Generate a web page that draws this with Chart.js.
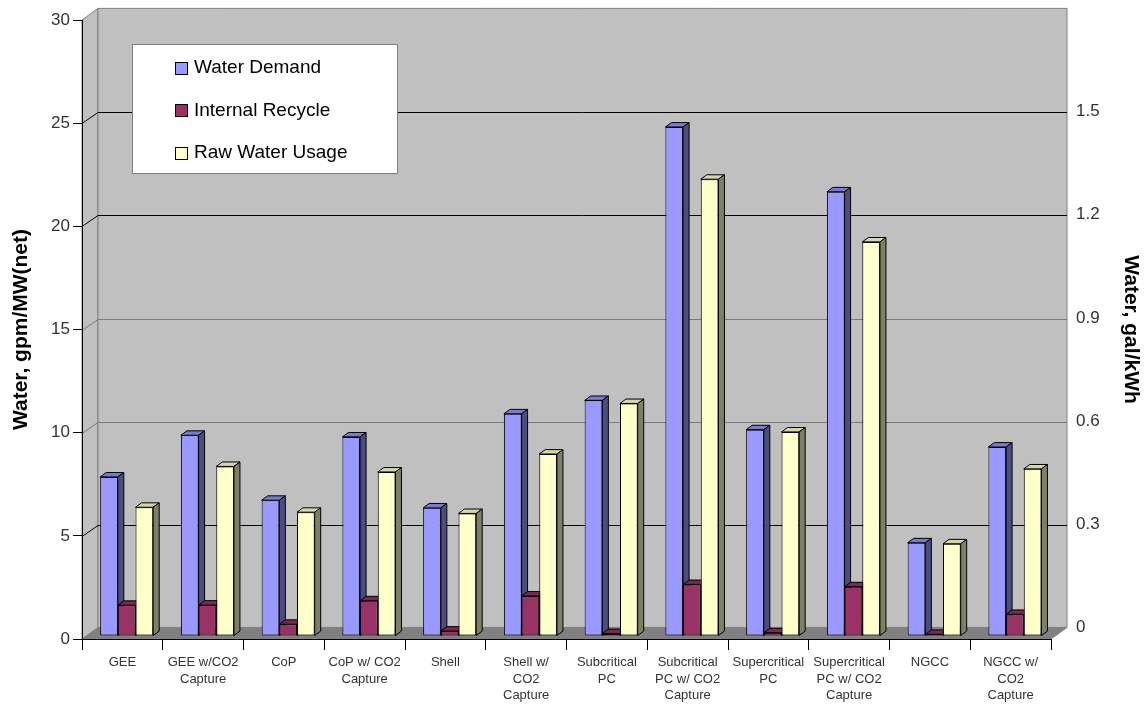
<!DOCTYPE html>
<html>
<head>
<meta charset="utf-8">
<script src="https://cdn.jsdelivr.net/npm/chart.js@4.4.1/dist/chart.umd.min.js"></script>
<style>
  html, body { margin: 0; padding: 0; background: #fff; }
  #wrap { width: 1146px; height: 705px; }
</style>
</head>
<body>
<div id="wrap"><canvas id="c" width="1146" height="705"></canvas></div>
<script>
// Plant configurations
const categories = [
  'GEE', ['GEE w/CO2', 'Capture'], 'CoP', ['CoP w/ CO2', 'Capture'], 'Shell',
  ['Shell w/', 'CO2', 'Capture'], ['Subcritical', 'PC'], ['Subcritical', 'PC w/ CO2', 'Capture'],
  ['Supercritical', 'PC'], ['Supercritical', 'PC w/ CO2', 'Capture'], 'NGCC', ['NGCC w/', 'CO2', 'Capture']
];

// Water figures, gpm per MW (net)
const waterDemand     = [7.71, 9.73, 6.58, 9.65, 6.21, 10.77, 11.42, 24.67, 10.0, 21.53, 4.52, 9.16];
const internalRecycle = [1.49, 1.50, 0.57, 1.71, 0.24, 1.94, 0.12, 2.50, 0.16, 2.39, 0.08, 1.05];
const rawWaterUsage   = [6.24, 8.22, 6.00, 7.95, 5.94, 8.82, 11.27, 22.14, 9.89, 19.10, 4.47, 8.10];

const seriesNames = ['Water Demand', 'Internal Recycle', 'Raw Water Usage'];

// Axis ticks: gpm/MW on the left, gal/kWh on the right (1 gpm/MW = 0.06 gal/kWh)
const leftTicks  = [0, 5, 10, 15, 20, 25, 30];
const rightTicks = [0, 0.3, 0.6, 0.9, 1.2, 1.5];
const GPM_TO_GALKWH = 0.06;

// ---- 3-D look -------------------------------------------------------------
const DEPTH     = { dx: 16,  dy: -11.6 };  // back wall offset from the axis plane
const BAR_FRONT = { dx: 4.3, dy: -3 };     // bar fronts sit a little behind the axis plane
const BAR_DEPTH = { dx: 6,   dy: -4.4 };   // depth of each column
const seriesColors = ['#9999FF', '#993366', '#FFFFCC'];
const faceShades = [
  { top: '#7a7ad6', side: '#4c4c80' },
  { top: '#7a2952', side: '#4c1a33' },
  { top: '#d6d6ab', side: '#7f7f66' }
];
const wallGridColor = v => (v === 10 || v === 15) ? '#7a7a7a' : '#000';

function poly(ctx, pts, fill, stroke) {
  ctx.beginPath();
  ctx.moveTo(pts[0][0], pts[0][1]);
  for (let i = 1; i < pts.length; i++) ctx.lineTo(pts[i][0], pts[i][1]);
  ctx.closePath();
  if (fill) { ctx.fillStyle = fill; ctx.fill(); }
  if (stroke) { ctx.strokeStyle = stroke; ctx.lineWidth = 1; ctx.stroke(); }
}

const chart3d = {
  id: 'chart3d',
  beforeDraw(chart) {
    const { ctx, chartArea: a, scales: { y } } = chart;
    const { dx, dy } = DEPTH;
    ctx.save();
    // floor
    poly(ctx, [[a.left, a.bottom], [a.left + dx, a.bottom + dy], [a.right + dx, a.bottom + dy], [a.right, a.bottom]], '#808080', '#808080');
    // side wall
    poly(ctx, [[a.left, a.top], [a.left + dx, a.top + dy], [a.left + dx, a.bottom + dy], [a.left, a.bottom]], '#c0c0c0', '#808080');
    // back wall
    poly(ctx, [[a.left + dx, a.top + dy], [a.right + dx, a.top + dy], [a.right + dx, a.bottom + dy], [a.left + dx, a.bottom + dy]], '#c0c0c0', '#808080');
    // gridlines running along the side wall and the back wall
    ctx.lineWidth = 1;
    y.ticks.forEach(t => {
      if (t.value <= y.min || t.value >= y.max) return;
      const py = Math.round(y.getPixelForValue(t.value)) + 0.5;
      const pb = Math.round(py + dy) + 0.5;
      ctx.strokeStyle = wallGridColor(t.value);
      ctx.beginPath();
      ctx.moveTo(a.left, py);
      ctx.lineTo(a.left + dx, pb);
      ctx.lineTo(a.right + dx, pb);
      ctx.stroke();
    });
    ctx.restore();
  },
  beforeDatasetsDraw(chart) {
    const ctx = chart.ctx;
    const metas = chart.data.datasets.map((d, i) => chart.getDatasetMeta(i));
    const { dx, dy } = BAR_DEPTH;
    ctx.save();
    ctx.translate(BAR_FRONT.dx, BAR_FRONT.dy);
    for (let j = 0; j < chart.data.labels.length; j++) {
      metas.forEach((meta, i) => {
        const el = meta.data[j];
        el.draw(ctx);
        const l = el.x - el.width / 2, r = el.x + el.width / 2, t = el.y, b = el.base;
        poly(ctx, [[l, t], [l + dx, t + dy], [r + dx, t + dy], [r, t]], faceShades[i].top, '#000');
        poly(ctx, [[r, t], [r + dx, t + dy], [r + dx, b + dy], [r, b]], faceShades[i].side, '#000');
      });
    }
    ctx.restore();
    return false;
  }
};

// Boxed legend inside the plot
const boxLegend = {
  id: 'boxLegend',
  afterDraw(chart, args, opts) {
    const ctx = chart.ctx;
    ctx.save();
    ctx.fillStyle = '#fff';
    ctx.fillRect(opts.x, opts.y, opts.w, opts.h);
    ctx.strokeStyle = '#808080';
    ctx.lineWidth = 1;
    ctx.strokeRect(opts.x + 0.5, opts.y + 0.5, opts.w, opts.h);
    ctx.font = opts.font;
    ctx.textBaseline = 'middle';
    ctx.textAlign = 'left';
    chart.data.datasets.forEach((ds, i) => {
      const cy = opts.firstY + i * opts.gap;
      const s = opts.swatch;
      ctx.fillStyle = ds.backgroundColor;
      ctx.fillRect(opts.swatchX, Math.round(cy - s / 2), s, s);
      ctx.strokeStyle = '#000';
      ctx.strokeRect(opts.swatchX + 0.5, Math.round(cy - s / 2) + 0.5, s - 1, s - 1);
      ctx.fillStyle = '#000';
      ctx.fillText(ds.label, opts.textX, cy);
    });
    ctx.restore();
  }
};

Chart.defaults.font.family = '"Liberation Sans", Arial, Helvetica, sans-serif';
Chart.defaults.color = '#333';

new Chart(document.getElementById('c'), {
  type: 'bar',
  data: {
    labels: categories,
    datasets: [waterDemand, internalRecycle, rawWaterUsage].map((vals, i) => ({
      label: seriesNames[i],
      data: vals,
      backgroundColor: seriesColors[i],
      borderColor: '#000',
      borderWidth: 1,
      borderSkipped: false,
      categoryPercentage: 0.657,
      barPercentage: 1.0,
      yAxisID: 'y'
    }))
  },
  options: {
    responsive: false,
    animation: false,
    devicePixelRatio: 1,
    layout: { padding: { top: 20, left: 0, right: 0, bottom: 0 } },
    plugins: {
      legend: { display: false },
      tooltip: { enabled: false },
      boxLegend: {
        x: 132, y: 44, w: 265, h: 129,
        swatchX: 175, textX: 194, firstY: 68, gap: 42.5, swatch: 13,
        font: '19px "Liberation Sans", Arial, sans-serif'
      }
    },
    scales: {
      x: {
        offset: true,
        grid: { offset: true, drawOnChartArea: false, drawTicks: true, tickLength: 11, color: '#000' },
        border: { display: true, color: '#000' },
        ticks: {
          autoSkip: false, maxRotation: 0, minRotation: 0, padding: 4,
          font: { size: 13, lineHeight: 1.28 }, color: '#333'
        },
        afterFit: s => { s.height = 66; }
      },
      y: {
        position: 'left',
        min: 0, max: 30,
        afterBuildTicks: s => { s.ticks = leftTicks.map(v => ({ value: v })); },
        grid: { drawOnChartArea: false, drawTicks: true, tickLength: 9, color: '#000' },
        border: { display: true, color: '#000' },
        ticks: { padding: 3, font: { size: 17 }, color: '#333' },
        title: {
          display: true, text: 'Water, gpm/MW(net)', color: '#000',
          font: { size: 21, weight: 'bold' }, padding: { top: 9, bottom: 0 }
        },
        afterFit: s => { s.width = 82; }
      },
      y2: {
        position: 'right',
        min: 0, max: 30 * GPM_TO_GALKWH,
        afterBuildTicks: s => { s.ticks = rightTicks.map(v => ({ value: v })); },
        // tick marks are hidden; their length only spaces the labels off the wall
        grid: { display: false, drawTicks: true, tickLength: 22 },
        border: { display: false },
        ticks: {
          padding: 3, labelOffset: DEPTH.dy, font: { size: 17 }, color: '#333',
          callback: v => (v === 0 ? '0' : v.toFixed(1))
        },
        title: {
          display: true, text: 'Water, gal/kWh', color: '#000',
          font: { size: 21, weight: 'bold' }, padding: { top: 3, bottom: 0 }
        },
        afterFit: s => { s.width = 95; }
      }
    }
  },
  plugins: [chart3d, boxLegend]
});
</script>
</body>
</html>
